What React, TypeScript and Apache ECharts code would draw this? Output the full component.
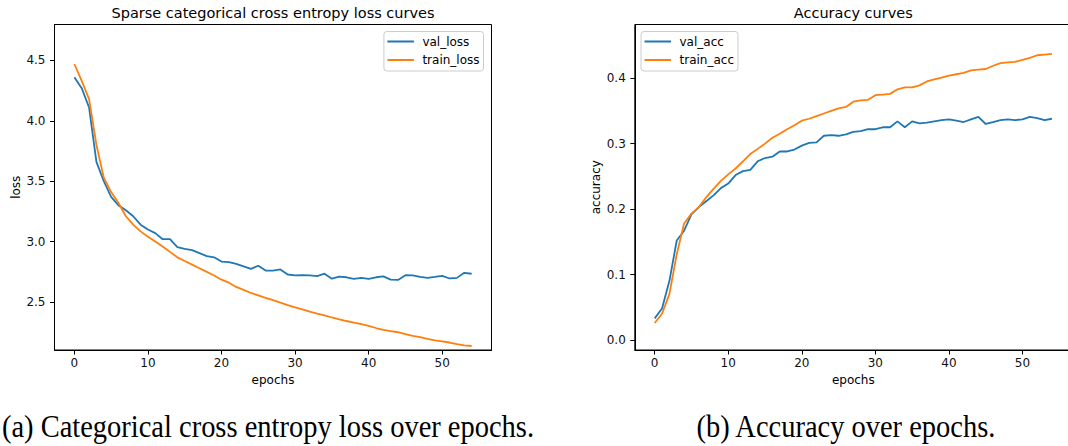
import React, { useEffect, useRef } from 'react';
import * as echarts from 'echarts';

// ---------- data ----------
const VAL_LOSS = [
  4.36, 4.27, 4.11, 3.66, 3.5, 3.37, 3.3, 3.26, 3.21, 3.14,
  3.1, 3.07, 3.02, 3.02, 2.955, 2.94, 2.93, 2.905, 2.88, 2.87,
  2.835, 2.83, 2.815, 2.795, 2.775, 2.8, 2.76, 2.76, 2.77, 2.728,
  2.72, 2.722, 2.72, 2.715, 2.735, 2.693, 2.71, 2.705, 2.692, 2.7,
  2.692, 2.705, 2.712, 2.685, 2.683, 2.722, 2.72, 2.708, 2.7, 2.708,
  2.717, 2.695, 2.7, 2.742, 2.734,
];
const TRAIN_LOSS = [
  4.47, 4.33, 4.18, 3.8, 3.53, 3.41, 3.32, 3.21, 3.14, 3.085,
  3.04, 3.0, 2.96, 2.915, 2.87, 2.84, 2.81, 2.78, 2.75, 2.72,
  2.685, 2.66, 2.625, 2.6, 2.575, 2.555, 2.535, 2.515, 2.495, 2.475,
  2.455, 2.44, 2.42, 2.405, 2.39, 2.372, 2.357, 2.343, 2.33, 2.318,
  2.303, 2.285, 2.27, 2.26, 2.25, 2.235, 2.22, 2.21, 2.196, 2.183,
  2.175, 2.165, 2.152, 2.142, 2.136,
];
const VAL_ACC = [
  0.033, 0.048, 0.09, 0.152, 0.167, 0.192, 0.203, 0.212, 0.221, 0.232,
  0.239, 0.252, 0.258, 0.26, 0.273, 0.278, 0.28, 0.288, 0.288, 0.291,
  0.297, 0.301, 0.302, 0.312, 0.313, 0.312, 0.314, 0.318, 0.319, 0.322,
  0.322, 0.325, 0.325, 0.334, 0.325, 0.334, 0.331, 0.332, 0.334, 0.336,
  0.337, 0.335, 0.333, 0.337, 0.341, 0.33, 0.333, 0.336, 0.337, 0.336,
  0.337, 0.341, 0.339, 0.336, 0.338,
];
const TRAIN_ACC = [
  0.026, 0.04, 0.07, 0.131, 0.178, 0.193, 0.203, 0.218, 0.231, 0.243,
  0.253, 0.262, 0.273, 0.284, 0.292, 0.3, 0.309, 0.315, 0.322, 0.328,
  0.335, 0.338, 0.342, 0.346, 0.35, 0.354, 0.356, 0.364, 0.366, 0.367,
  0.374, 0.375, 0.376, 0.383, 0.386, 0.386, 0.389, 0.395, 0.398, 0.401,
  0.404, 0.406, 0.408, 0.412, 0.413, 0.414, 0.419, 0.423, 0.424, 0.425,
  0.428, 0.431, 0.435, 0.436, 0.437,
];
const X_TICKS = [0, 10, 20, 30, 40, 50];
const LOSS_TICKS = [2.5, 3.0, 3.5, 4.0, 4.5];
const ACC_TICKS = [0.0, 0.1, 0.2, 0.3, 0.4];
const TITLES = ['Sparse categorical cross entropy loss curves', 'Accuracy curves'];
const Y_NAMES = ['loss', 'accuracy'];
const X_NAME = 'epochs';
const CAPTIONS = ['(a) Categorical cross entropy loss over epochs.', '(b) Accuracy over epochs.'];
const LOSS_NAMES = ['val_loss', 'train_loss'];
const ACC_NAMES = ['val_acc', 'train_acc'];

const BLUE = '#1f77b4';
const ORANGE = '#ff7f0e';
const SANS = '"DejaVu Sans", sans-serif';
const SERIF = '"Liberation Serif", "DejaVu Serif", serif';

const GRID_TOP = 24.5;
const GRID_H = 325.5;
const GRID_W = 437;
const LEFTS = [54.5, 634.8];

function xAxis(gridIndex: number) {
  return {
    type: 'value',
    gridIndex,
    min: -2.7,
    max: 56.7,
    name: X_NAME,
    nameLocation: 'middle',
    nameGap: 24,
    nameMoveOverlap: false,
    nameTextStyle: { fontFamily: SANS, fontSize: 12, color: '#000' },
    axisLine: { show: true, onZero: false, lineStyle: { color: '#000', width: 1 } },
    axisTick: { show: true, length: 4.5, customValues: X_TICKS, lineStyle: { color: '#000', width: 1 } },
    axisLabel: { customValues: X_TICKS, margin: 7, fontFamily: SANS, fontSize: 12, color: '#111' },
    splitLine: { show: false },
  };
}

function yAxis(gridIndex: number, min: number, max: number, ticks: number[]) {
  return {
    type: 'value',
    gridIndex,
    min,
    max,
    axisLine: { show: true, onZero: false, lineStyle: { color: '#000', width: 1 } },
    axisTick: { show: true, length: 4.5, customValues: ticks, lineStyle: { color: '#000', width: 1 } },
    axisLabel: {
      customValues: ticks,
      margin: 9,
      fontFamily: SANS,
      fontSize: 12,
      color: '#111',
      formatter: (v: number) => v.toFixed(1),
    },
    splitLine: { show: false },
  };
}

function legend(left: number, names: string[]) {
  return {
    data: names.map((n) => ({ name: n, icon: 'rect' })),
    orient: 'vertical',
    left,
    top: 31.5,
    itemWidth: 26.5,
    itemHeight: 2,
    itemGap: 4.5,
    padding: [3, 4, 4, 3.5],
    backgroundColor: '#ffffff',
    borderColor: '#cccccc',
    borderWidth: 1,
    borderRadius: 3,
    selectedMode: false,
    textStyle: { fontFamily: SANS, fontSize: 12, color: '#000', lineHeight: 14, padding: [0, 0, 0, 3.5] },
  };
}

function line(name: string, values: number[], color: string, idx: number) {
  return {
    type: 'line',
    name,
    xAxisIndex: idx,
    yAxisIndex: idx,
    data: values.map((v, i) => [i, v]),
    symbol: 'none',
    smooth: false,
    lineStyle: { color, width: 1.8 },
    itemStyle: { color },
    z: 3,
  };
}

export default function App() {
  const ref = useRef<HTMLDivElement>(null);
  useEffect(() => {
    if (!ref.current) return;
    const chart = echarts.init(ref.current, undefined, { renderer: 'svg' });
    const centers = LEFTS.map((l) => l + GRID_W / 2);
    chart.setOption({
      animation: false,
      backgroundColor: '#ffffff',
      grid: LEFTS.map((l) => ({
        left: l,
        top: GRID_TOP,
        width: GRID_W,
        height: GRID_H,
        show: true,
        borderColor: '#000',
        borderWidth: 1,
        backgroundColor: 'transparent',
        containLabel: false,
        outerBoundsMode: 'none',
      })),
      xAxis: [xAxis(0), xAxis(1)],
      yAxis: [yAxis(0, 2.103, 4.797, LOSS_TICKS), yAxis(1, -0.0153, 0.482, ACC_TICKS)],
      legend: [legend(383.9, LOSS_NAMES), legend(641, ACC_NAMES)],
      series: [
        line(LOSS_NAMES[0], VAL_LOSS, BLUE, 0),
        line(LOSS_NAMES[1], TRAIN_LOSS, ORANGE, 0),
        line(ACC_NAMES[0], VAL_ACC, BLUE, 1),
        line(ACC_NAMES[1], TRAIN_ACC, ORANGE, 1),
      ],
      graphic: [
        ...TITLES.map((t, i) => ({
          type: 'text',
          x: centers[i],
          y: 12.5,
          style: { text: t, fontFamily: SANS, fontSize: 14.5, fill: '#000', textAlign: 'center', textVerticalAlign: 'middle' },
        })),
        ...Y_NAMES.map((t, i) => ({
          type: 'text',
          x: [15.5, 596][i],
          y: GRID_TOP + GRID_H / 2,
          rotation: Math.PI / 2,
          style: { text: t, fontFamily: SANS, fontSize: 12, fill: '#000', textAlign: 'center', textVerticalAlign: 'middle' },
        })),
        ...CAPTIONS.map((t, i) => ({
          type: 'text',
          x: [268, 846][i],
          y: 426,
          scaleX: 0.89,
          style: { text: t, fontFamily: SERIF, fontSize: 32, fill: '#000', textAlign: 'center', textVerticalAlign: 'middle' },
        })),
      ],
    });
    return () => chart.dispose();
  }, []);
  return (
    <div
      ref={ref}
      style={{ position: 'fixed', left: 0, top: 0, width: 1068, height: 446, background: '#fff' }}
    />
  );
}
